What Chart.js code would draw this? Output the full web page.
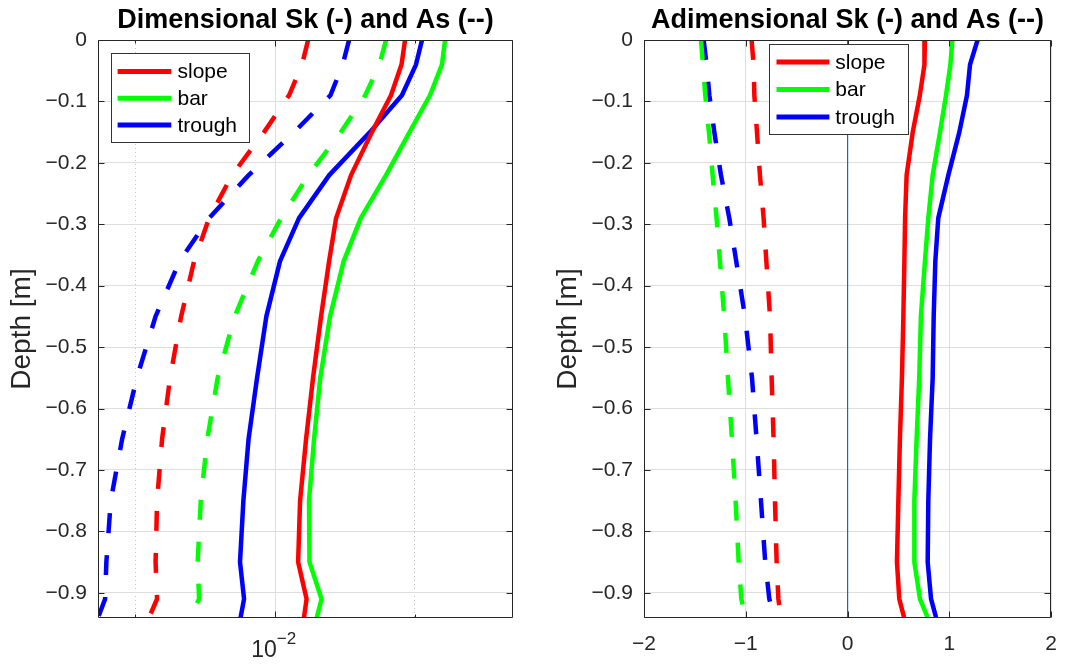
<!DOCTYPE html>
<html>
<head>
<meta charset="utf-8">
<script src="https://cdn.jsdelivr.net/npm/chart.js@4.4.0/dist/chart.umd.min.js"></script>
<style>
html,body{margin:0;padding:0;background:#fff;overflow:hidden;width:1071px;height:668px;}
canvas{position:absolute;top:0;}
#c1{left:0;}
#c2{left:546px;}
</style>
</head>
<body>
<canvas id="c1" width="535" height="668"></canvas>
<canvas id="c2" width="525" height="668"></canvas>
<script>
// ---------- data ----------
const categories = ['slope', 'bar', 'trough'];
const depth = [0, -0.04, -0.09, -0.15, -0.22, -0.29, -0.36, -0.45, -0.55, -0.65, -0.75, -0.85, -0.91, -0.94];
const depthTicks = [0, -0.1, -0.2, -0.3, -0.4, -0.5, -0.6, -0.7, -0.8, -0.9];
const depthMin = -0.941;

// Dimensional (log x axis)
const dimTicks = [0.005, 0.01, 0.02];
const dimLabelTick = 0.01;
const dimLabelBase = '10';
const dimLabelExp = '\u22122';
const dimMin = 0.00416;
const dimMax = 0.0325;
const dimSkSlope  = [0.01904, 0.01871, 0.01776, 0.01616, 0.01457, 0.01353, 0.01307, 0.01256, 0.01207, 0.01166, 0.01132, 0.01121, 0.01169, 0.01154];
const dimSkBar    = [0.02321, 0.02286, 0.02154, 0.01947, 0.01733, 0.01529, 0.01405, 0.01313, 0.01251, 0.01213, 0.01183, 0.01186, 0.01259, 0.01230];
const dimSkTrough = [0.02071, 0.02010, 0.01875, 0.01600, 0.01308, 0.01126, 0.01025, 0.009578, 0.009147, 0.008769, 0.008548, 0.008406, 0.008577, 0.008431];
const dimAsSlope  = [0.01178, 0.01143, 0.01072, 0.00947, 0.008082, 0.007212, 0.006696, 0.006280, 0.005944, 0.005714, 0.005574, 0.005533, 0.005574, 0.005358];
const dimAsBar    = [0.01733, 0.01677, 0.01563, 0.01385, 0.01180, 0.01030, 0.009184, 0.008186, 0.007525, 0.007147, 0.006921, 0.006816, 0.006863, 0.006565];
const dimAsTrough = [0.01443, 0.01398, 0.01316, 0.01099, 0.008775, 0.007212, 0.006233, 0.005533, 0.005043, 0.004687, 0.004432, 0.004336, 0.004309, 0.004163];

// Adimensional (linear x axis)
const adimTicks = [-2, -1, 0, 1, 2];
const adimSkSlope  = [0.76, 0.755, 0.71, 0.64, 0.58, 0.565, 0.558, 0.548, 0.534, 0.514, 0.499, 0.485, 0.508, 0.555];
const adimSkBar    = [1.03, 1.01, 0.967, 0.908, 0.836, 0.793, 0.76, 0.72, 0.704, 0.678, 0.656, 0.656, 0.711, 0.786];
const adimSkTrough = [1.277, 1.203, 1.173, 1.098, 0.99, 0.891, 0.862, 0.846, 0.836, 0.81, 0.793, 0.787, 0.82, 0.869];
const adimAsSlope  = [-0.943, -0.923, -0.916, -0.89, -0.861, -0.825, -0.798, -0.762, -0.746, -0.727, -0.713, -0.697, -0.68, -0.655];
const adimAsBar    = [-1.44, -1.421, -1.398, -1.362, -1.326, -1.287, -1.254, -1.212, -1.175, -1.136, -1.10, -1.07, -1.044, -0.998];
const adimAsTrough = [-1.414, -1.385, -1.358, -1.309, -1.244, -1.162, -1.094, -1.008, -0.939, -0.894, -0.851, -0.809, -0.769, -0.72];
const zeroLineX = [0, 0];
const zeroLineDepth = [0, depthMin];

// ---------- styling ----------
const FONT = "'Liberation Sans', Arial, Helvetica, sans-serif";
const AX = '#262626';
const GRID = '#dedede';
const MINOR = '#c4c4c4';
const COLORS = { slope: '#ff0000', bar: '#00ff00', trough: '#0000ff' };

function fmtDepth(v) {
  if (Math.abs(v) < 1e-9) return '0';
  return (v < 0 ? '\u2212' : '') + Math.abs(v).toFixed(1);
}
function fmtInt(v) {
  if (Math.abs(v) < 1e-9) return '0';
  return (v < 0 ? '\u2212' : '') + Math.abs(v);
}

function series(label, xs, ys, color, dashed, inLegend, width) {
  return {
    label: label,
    data: ys.map((d, i) => ({ x: xs[i], y: d })),
    borderColor: color,
    backgroundColor: color,
    borderWidth: width || 4.5,
    borderDash: dashed ? [20, 22] : [],
    borderCapStyle: 'butt',
    borderJoinStyle: 'round',
    pointRadius: 0,
    pointHoverRadius: 0,
    tension: 0,
    fill: false,
    clip: 0,
    inLegend: inLegend
  };
}

const framePlugin = {
  id: 'frame',
  afterDraw(chart, args, opts) {
    const ctx = chart.ctx, a = chart.chartArea, sx = chart.scales.x, sy = chart.scales.y;
    const L = Math.round(a.left) + 0.5, R = Math.round(a.right) - 0.5;
    const T = Math.round(a.top) + 0.5, B = Math.round(a.bottom) - 0.5;
    ctx.save();
    ctx.strokeStyle = AX;
    ctx.lineWidth = 1;
    ctx.setLineDash([]);
    ctx.beginPath();
    ctx.rect(L, T, R - L, B - T);
    sy.ticks.forEach(t => {
      const p = Math.round(sy.getPixelForValue(t.value)) + 0.5;
      ctx.moveTo(L, p); ctx.lineTo(L + opts.tickLen, p);
      ctx.moveTo(R, p); ctx.lineTo(R - opts.tickLen, p);
    });
    sx.ticks.forEach(t => {
      const len = (opts.minor || []).includes(t.value) ? opts.tickLen / 2 : opts.tickLen;
      const p = Math.round(sx.getPixelForValue(t.value)) + 0.5;
      ctx.moveTo(p, B); ctx.lineTo(p, B - len);
      ctx.moveTo(p, T); ctx.lineTo(p, T + len);
    });
    ctx.stroke();

    // exponent of a power-of-ten tick label
    if (opts.exponent) {
      const e = opts.exponent;
      ctx.font = e.baseSize + 'px ' + FONT;
      const w = ctx.measureText(e.base).width;
      const px = sx.getPixelForValue(e.value) + e.labelOffset + w / 2;
      ctx.font = e.size + 'px ' + FONT;
      ctx.fillStyle = AX;
      ctx.textAlign = 'left';
      ctx.textBaseline = 'middle';
      ctx.fillText(e.text, px, a.bottom + e.dy);
    }

    // legend box
    const lg = opts.legend;
    const x0 = Math.round(a.left + lg.dx), y0 = Math.round(a.top + lg.dy);
    ctx.fillStyle = '#ffffff';
    ctx.fillRect(x0, y0, lg.w, lg.h);
    ctx.strokeStyle = '#333333';
    ctx.lineWidth = 1;
    ctx.strokeRect(x0 + 0.5, y0 + 0.5, lg.w, lg.h);
    const items = chart.data.datasets.filter(d => d.inLegend);
    ctx.font = '21px ' + FONT;
    ctx.textBaseline = 'middle';
    ctx.textAlign = 'left';
    items.forEach((d, i) => {
      const yy = y0 + lg.row0 + i * lg.rowGap;
      ctx.strokeStyle = d.borderColor;
      ctx.lineWidth = 5;
      ctx.beginPath();
      ctx.moveTo(x0 + lg.lineX0, yy);
      ctx.lineTo(x0 + lg.lineX1, yy);
      ctx.stroke();
      ctx.fillStyle = '#000000';
      ctx.fillText(d.label, x0 + lg.textX, yy + 1);
    });
    ctx.restore();
  }
};

function yAxis() {
  return {
    type: 'linear',
    min: depthMin,
    max: 0,
    afterBuildTicks: s => { s.ticks = depthTicks.map(v => ({ value: v })); },
    afterFit: s => { s.width = 98; },
    ticks: { callback: v => fmtDepth(v), font: { family: FONT, size: 21 }, color: AX, padding: 11 },
    grid: { color: GRID, lineWidth: 1, drawTicks: false },
    border: { display: false },
    title: { display: true, text: 'Depth [m]', font: { family: FONT, size: 28 }, color: AX, padding: { top: 5, bottom: 0 } }
  };
}

function titleOpts(text) {
  return {
    display: true,
    text: text,
    fullSize: false,
    color: '#000000',
    font: { family: FONT, size: 27, weight: 'bold' },
    padding: { top: 4, bottom: 3.6 }
  };
}

// ---------- left chart: dimensional ----------
new Chart(document.getElementById('c1'), {
  type: 'line',
  data: {
    datasets: [
      series(categories[0], dimSkSlope, depth, COLORS.slope, false, true),
      series(categories[1], dimSkBar, depth, COLORS.bar, false, true),
      series(categories[2], dimSkTrough, depth, COLORS.trough, false, true),
      series(categories[0] + ' As', dimAsSlope, depth, COLORS.slope, true, false),
      series(categories[1] + ' As', dimAsBar, depth, COLORS.bar, true, false),
      series(categories[2] + ' As', dimAsTrough, depth, COLORS.trough, true, false)
    ]
  },
  options: {
    responsive: false,
    animation: false,
    devicePixelRatio: 1,
    layout: { padding: { left: 0, right: 22, top: 0, bottom: 0 } },
    plugins: {
      legend: { display: false },
      tooltip: { enabled: false },
      title: titleOpts('Dimensional Sk (-) and As (--)'),
      frame: {
        tickLen: 6,
        minor: [0.005, 0.02],
        exponent: { value: dimLabelTick, base: dimLabelBase, baseSize: 23, text: dimLabelExp, size: 17, labelOffset: -11, dy: 21.5 },
        legend: { dx: 13, dy: 13, w: 138, h: 89, row0: 18.4, rowGap: 26.8, lineX0: 6.6, lineX1: 60.3, textX: 66.5 }
      }
    },
    scales: {
      x: {
        type: 'logarithmic',
        min: dimMin,
        max: dimMax,
        afterBuildTicks: s => { s.ticks = dimTicks.map(v => ({ value: v })); },
        afterFit: s => { s.height = 50; },
        ticks: {
          callback: v => (v === dimLabelTick ? dimLabelBase : ''),
          font: { family: FONT, size: 23 }, color: AX, padding: 19, labelOffset: -11, maxRotation: 0, autoSkip: false
        },
        grid: {
          color: c => (c.tick && c.tick.value === dimLabelTick) ? GRID : MINOR,
          lineWidth: 1,
          drawTicks: false
        },
        border: {
          display: false,
          dash: c => (c.tick && c.tick.value !== dimLabelTick) ? [1, 3] : []
        }
      },
      y: yAxis()
    }
  },
  plugins: [framePlugin]
});

// ---------- right chart: adimensional ----------
new Chart(document.getElementById('c2'), {
  type: 'line',
  data: {
    datasets: [
      series(categories[0], adimSkSlope, depth, COLORS.slope, false, true),
      series(categories[1], adimSkBar, depth, COLORS.bar, false, true),
      series(categories[2], adimSkTrough, depth, COLORS.trough, false, true),
      series(categories[0] + ' As', adimAsSlope, depth, COLORS.slope, true, false),
      series(categories[1] + ' As', adimAsBar, depth, COLORS.bar, true, false),
      series(categories[2] + ' As', adimAsTrough, depth, COLORS.trough, true, false),
      series('zero', zeroLineX, zeroLineDepth, '#0072BD', false, false, 1)
    ]
  },
  options: {
    responsive: false,
    animation: false,
    devicePixelRatio: 1,
    layout: { padding: { left: 0, right: 12, top: 0, bottom: 0 } },
    plugins: {
      legend: { display: false },
      tooltip: { enabled: false },
      title: titleOpts('Adimensional Sk (-) and As (--)'),
      frame: {
        tickLen: 6,
        minor: [],
        legend: { dx: 125, dy: 4, w: 139, h: 90, row0: 18, rowGap: 27.5, lineX0: 7.5, lineX1: 60.4, textX: 66.3 }
      }
    },
    scales: {
      x: {
        type: 'linear',
        min: -2,
        max: 2,
        afterBuildTicks: s => { s.ticks = adimTicks.map(v => ({ value: v })); },
        afterFit: s => { s.height = 50; },
        ticks: { callback: v => fmtInt(v), font: { family: FONT, size: 21 }, color: AX, padding: 14, maxRotation: 0, autoSkip: false },
        grid: { color: GRID, lineWidth: 1, drawTicks: false },
        border: { display: false }
      },
      y: yAxis()
    }
  },
  plugins: [framePlugin]
});
</script>
</body>
</html>
